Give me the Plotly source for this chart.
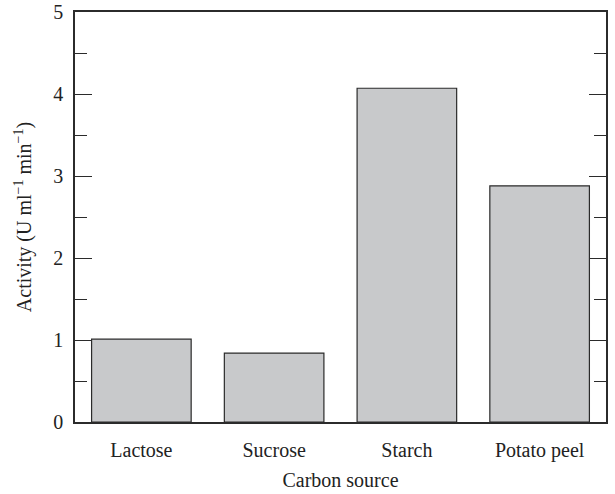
import plotly.graph_objects as go

categories = ["Lactose", "Sucrose", "Starch", "Potato peel"]
activity = [1.01, 0.84, 4.07, 2.88]
y_ticks = [0, 1, 2, 3, 4, 5]

font_family = "Liberation Serif, DejaVu Serif, serif"
axis_color = "#2b2b2b"

fig = go.Figure(
    go.Bar(
        x=categories,
        y=activity,
        marker=dict(color="#c8c9cb", line=dict(color=axis_color, width=1.2)),
    )
)

fig.update_layout(
    width=615,
    height=494,
    margin=dict(l=75, r=9, t=12, b=72, autoexpand=False),
    plot_bgcolor="white",
    paper_bgcolor="white",
    bargap=0.25,
    showlegend=False,
    font=dict(family=font_family, size=20, color="#222"),
)

fig.update_xaxes(
    automargin=False,
    showline=True,
    linecolor=axis_color,
    linewidth=1.5,
    mirror=True,
    ticks="",
    showgrid=False,
    tickfont=dict(size=20),
    ticklabelstandoff=9,
    title=dict(text="Carbon source", font=dict(size=20), standoff=12),
)

fig.update_yaxes(
    automargin=False,
    range=[0, 5],
    tickvals=y_ticks,
    showline=True,
    linecolor=axis_color,
    linewidth=1.5,
    mirror="ticks",
    ticks="inside",
    ticklen=17,
    tickwidth=1.3,
    tickcolor=axis_color,
    minor=dict(ticks="inside", ticklen=12, dtick=0.5, tickwidth=1.3, tickcolor=axis_color, showgrid=False),
    showgrid=False,
    zeroline=False,
    tickfont=dict(size=20),
    ticklabelstandoff=6,
    title=dict(text="Activity (U ml<sup>−1</sup> min<sup>−1</sup>)", font=dict(size=20), standoff=16),
)

fig.write_html(
    "out.html",
    config={"displayModeBar": False},
    post_script="document.body.style.margin='0';document.body.style.overflow='hidden';",
)
